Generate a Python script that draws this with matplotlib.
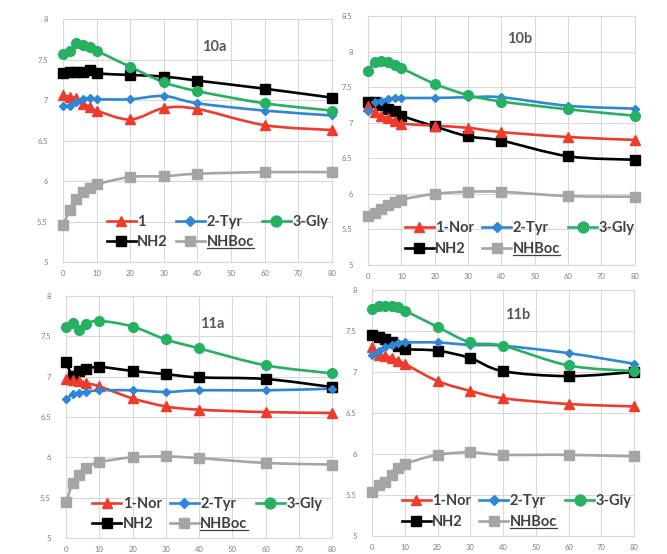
import matplotlib.pyplot as plt
import numpy as np
from matplotlib.lines import Line2D
from matplotlib.patches import PathPatch
from matplotlib.path import Path
from matplotlib.ticker import FuncFormatter, MultipleLocator

plt.rcParams['font.family'] = ['Lato', 'DejaVu Sans']

# time points (min)
t_full = [0, 2, 4, 6, 8, 10, 20, 30, 40, 60, 80]
t_11a = [0, 2, 4, 6, 10, 20, 30, 40, 60, 80]

# 10a
nor_10a = [7.06, 7.04, 7.02, 6.95, 6.92, 6.87, 6.76, 6.90, 6.89, 6.69, 6.63]
tyr_10a = [6.93, 6.93, 6.98, 7.01, 7.02, 7.01, 7.01, 7.05, 6.96, 6.87, 6.81]
gly_10a = [7.57, 7.60, 7.70, 7.68, 7.66, 7.61, 7.41, 7.22, 7.11, 6.96, 6.87]
nh2_10a = [7.33, 7.35, 7.35, 7.35, 7.37, 7.33, 7.31, 7.29, 7.24, 7.14, 7.03]
boc_10a = [5.46, 5.64, 5.78, 5.87, 5.92, 5.96, 6.05, 6.06, 6.09, 6.11, 6.11]

# 10b
nor_10b = [7.23, 7.15, 7.09, 7.07, 7.03, 6.99, 6.96, 6.93, 6.87, 6.80, 6.76]
tyr_10b = [7.16, 7.29, 7.31, 7.34, 7.35, 7.35, 7.35, 7.36, 7.36, 7.24, 7.20]
gly_10b = [7.73, 7.86, 7.87, 7.86, 7.82, 7.77, 7.55, 7.39, 7.30, 7.19, 7.10]
nh2_10b = [7.30, 7.29, 7.25, 7.19, 7.16, 7.10, 6.95, 6.81, 6.75, 6.53, 6.48]
boc_10b = [5.69, 5.73, 5.79, 5.84, 5.88, 5.92, 6.00, 6.03, 6.03, 5.97, 5.96]

# 11a
nor_11a = [6.97, 6.96, 6.95, 6.92, 6.88, 6.73, 6.63, 6.59, 6.56, 6.55]
tyr_11a = [6.72, 6.78, 6.80, 6.81, 6.83, 6.83, 6.81, 6.83, 6.83, 6.85]
gly_11a = [7.61, 7.66, 7.58, 7.65, 7.69, 7.62, 7.46, 7.35, 7.14, 7.04]
nh2_11a = [7.18, 7.01, 7.07, 7.09, 7.12, 7.07, 7.03, 6.99, 6.97, 6.87]
boc_11a = [5.44, 5.68, 5.78, 5.87, 5.94, 6.00, 6.01, 5.99, 5.93, 5.91]

# 11b
nor_11b = [7.30, 7.21, 7.20, 7.17, 7.14, 7.10, 6.89, 6.77, 6.68, 6.61, 6.58]
tyr_11b = [7.21, 7.26, 7.30, 7.33, 7.35, 7.36, 7.36, 7.33, 7.32, 7.23, 7.10]
gly_11b = [7.77, 7.80, 7.81, 7.81, 7.79, 7.75, 7.55, 7.36, 7.32, 7.08, 7.01]
nh2_11b = [7.45, 7.43, 7.40, 7.36, 7.32, 7.28, 7.26, 7.17, 7.01, 6.95, 7.00]
boc_11b = [5.54, 5.62, 5.66, 5.75, 5.83, 5.88, 5.99, 6.02, 5.99, 5.99, 5.97]

STYLES = {
    "nor": dict(color="#EE3B2B", marker="^", ms=6.5),
    "tyr": dict(color="#2E87D6", marker="D", ms=4.2),
    "gly": dict(color="#25B062", marker="o", ms=7),
    "nh2": dict(color="#000000", marker="s", ms=6.5),
    "boc": dict(color="#A5A5A5", marker="s", ms=6.5),
}
TEXT_GRAY = "#404040"
GRID = "#D9D9D9"


def smooth_path(x, y):
    """Catmull-Rom style bezier through the points (spreadsheet smoothed line)."""
    pts = np.column_stack([x, y]).astype(float)
    ext = np.vstack([pts[0], pts, pts[-1]])
    verts = [pts[0]]
    codes = [Path.MOVETO]
    for i in range(len(pts) - 1):
        p0, p1, p2, p3 = ext[i], ext[i + 1], ext[i + 2], ext[i + 3]
        verts += [p1 + (p2 - p0) / 6.0, p2 - (p3 - p1) / 6.0, p2]
        codes += [Path.CURVE4] * 3
    return Path(verts, codes)


def draw_panel(ax, t, series, ymax, title, title_xy, first_label, leg_anchor):
    labels = {"nor": first_label, "tyr": "2-Tyr", "gly": "3-Gly",
              "nh2": "NH2", "boc": "NHBoc"}
    handles = {}
    for key in ["boc", "nh2", "nor", "tyr", "gly"]:
        st = STYLES[key]
        ys = series[key]
        patch = PathPatch(smooth_path(t, ys), fill=False, edgecolor=st["color"],
                          lw=1.9, capstyle="round", joinstyle="round",
                          zorder=3, clip_on=False)
        ax.add_patch(patch)
        ax.plot(t, ys, linestyle="none", marker=st["marker"], ms=st["ms"],
                color=st["color"], zorder=4, clip_on=False)
        handles[key] = Line2D([], [], color=st["color"], lw=1.9,
                              marker=st["marker"], ms=st["ms"] + 0.8)

    ax.set_xlim(0, 80)
    ax.set_ylim(5, ymax)
    ax.xaxis.set_major_locator(MultipleLocator(10))
    ax.yaxis.set_major_locator(MultipleLocator(0.5))
    ax.yaxis.set_major_formatter(FuncFormatter(lambda v, p: f"{v:g}"))
    ax.grid(True, color=GRID, lw=0.8)
    ax.set_axisbelow(True)
    for side in ax.spines.values():
        side.set_color(GRID)
        side.set_linewidth(0.8)
    ax.tick_params(length=0, labelsize=5.5, labelcolor="#7F7F7F")
    ax.tick_params(axis="y", pad=11)
    ax.tick_params(axis="x", pad=6)

    ax.text(title_xy[0], title_xy[1], title, fontsize=10.5, fontweight="bold",
            color="#595959", ha="center", va="center")

    order = ["nor", "nh2", "tyr", "boc", "gly"]
    leg = ax.legend([handles[k] for k in order], [labels[k] for k in order],
                    ncol=3, loc="upper left", bbox_to_anchor=leg_anchor,
                    frameon=False, handlelength=2.0, handletextpad=0.1,
                    columnspacing=0.55, labelspacing=0.45, borderpad=0,
                    prop=dict(size=10.5, weight="bold"))
    for txt in leg.get_texts():
        txt.set_color(TEXT_GRAY)
    return leg


fig = plt.figure(figsize=(6.67, 5.54), dpi=100)
ax_10a = fig.add_axes([0.0945, 0.527, 0.403, 0.4386])
ax_10b = fig.add_axes([0.5517, 0.5217, 0.400, 0.449])
ax_11a = fig.add_axes([0.099, 0.0289, 0.399, 0.437])
ax_11b = fig.add_axes([0.5577, 0.0325, 0.393, 0.444])

legends = [
    draw_panel(ax_10a, t_full,
               dict(nor=nor_10a, tyr=tyr_10a, gly=gly_10a, nh2=nh2_10a, boc=boc_10a),
               8, "10a", (45, 7.65), "1", (0.135, 0.225)),
    draw_panel(ax_10b, t_full,
               dict(nor=nor_10b, tyr=tyr_10b, gly=gly_10b, nh2=nh2_10b, boc=boc_10b),
               8.5, "10b", (45.5, 8.18), "1-Nor", (0.11, 0.205)),
    draw_panel(ax_11a, t_11a,
               dict(nor=nor_11a, tyr=tyr_11a, gly=gly_11a, nh2=nh2_11a, boc=boc_11a),
               8, "11a", (44, 7.65), "1-Nor", (0.07, 0.20)),
    draw_panel(ax_11b, t_full,
               dict(nor=nor_11b, tyr=tyr_11b, gly=gly_11b, nh2=nh2_11b, boc=boc_11b),
               8, "11b", (44.6, 7.70), "1-Nor", (0.085, 0.20)),
]

# underline the NHBoc legend entries
fig.canvas.draw()
renderer = fig.canvas.get_renderer()
inv = fig.transFigure.inverted()
for leg in legends:
    for txt in leg.get_texts():
        if txt.get_text() == "NHBoc":
            bb = txt.get_window_extent(renderer)
            (x0, y0), (x1, _) = inv.transform([[bb.x0, bb.y0], [bb.x1, bb.y1]])
            fig.add_artist(Line2D([x0, x1], [y0 + 0.002, y0 + 0.002],
                                  transform=fig.transFigure, color=TEXT_GRAY, lw=0.9))

fig.savefig("out.png", dpi=100)
